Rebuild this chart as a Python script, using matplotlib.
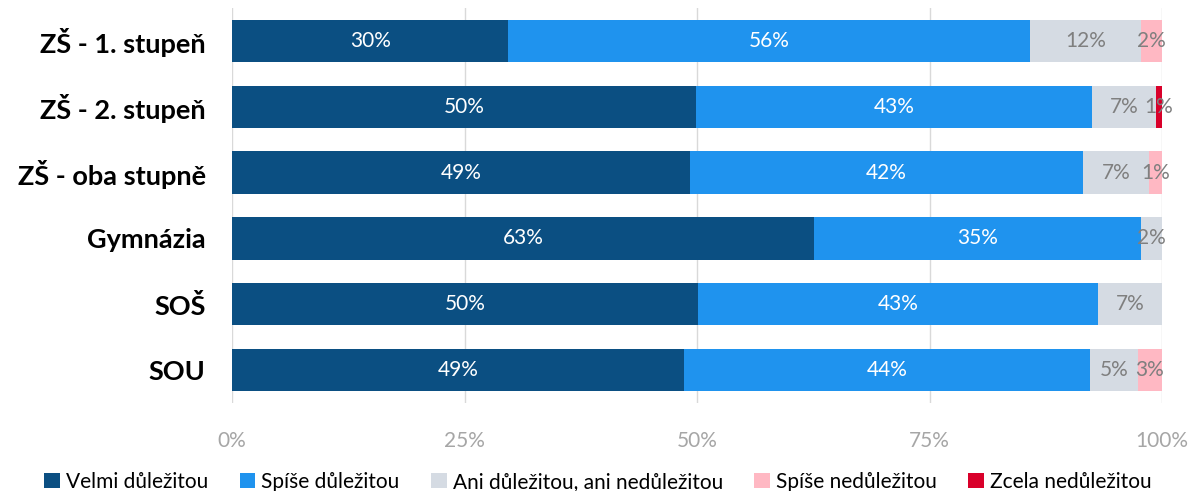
import matplotlib.pyplot as plt
import numpy as np

# --- data ---
categories = ['ZŠ - 1. stupeň', 'ZŠ - 2. stupeň', 'ZŠ - oba stupně', 'Gymnázia', 'SOŠ', 'SOU']
series_names = ['Velmi důležitou', 'Spíše důležitou', 'Ani důležitou, ani nedůležitou',
                'Spíše nedůležitou', 'Zcela nedůležitou']
velmi = [29.7, 49.9, 49.2, 62.6, 50.1, 48.6]
spise = [56.1, 42.6, 42.3, 35.1, 43.0, 43.7]
ani = [11.9, 6.8, 7.1, 2.3, 6.9, 5.1]
spise_ne = [2.3, 0.0, 1.4, 0.0, 0.0, 2.6]
zcela = [0.0, 0.7, 0.0, 0.0, 0.0, 0.0]
xticks = [0, 25, 50, 75, 100]

colors = ['#0b4f82', '#1f93ee', '#d5dbe3', '#ffb8c3', '#d9002a']
label_colors = ['white', 'white', '#7f7f7f', '#7f7f7f', '#7f7f7f']

plt.rcParams['font.family'] = ['Lato', 'DejaVu Sans']

fig = plt.figure(figsize=(11.96, 4.91), dpi=100)
ax = fig.add_axes([0.194, 0.179, 0.7776, 0.805])

y = np.arange(len(categories))
left = np.zeros(len(categories))
for vals, name, col, lcol in zip([velmi, spise, ani, spise_ne, zcela], series_names, colors, label_colors):
    vals = np.array(vals)
    ax.barh(y, vals, left=left, height=0.64, color=col, label=name, zorder=2)
    for yi, (l, v) in enumerate(zip(left, vals)):
        if v > 0:
            ax.text(l + v / 2, yi, f'{round(v):.0f}%', ha='center', va='center',
                    color=lcol, fontsize=15, zorder=3)
    left += vals

ax.set_xlim(0, 100)
ax.set_ylim(len(categories) - 0.5, -0.5)
ax.set_yticks(y)
ax.set_yticklabels(categories, fontsize=19.5, fontweight='bold', color='black')
ax.set_xticks(xticks)
ax.set_xticklabels([f'{t}%' for t in xticks], fontsize=15, color='#a6a6a6')
ax.tick_params(axis='y', length=0, pad=19)
ax.tick_params(axis='x', length=0, pad=20)
ax.grid(axis='x', color='#d9d9d9', linewidth=1, zorder=0)
for s in ax.spines.values():
    s.set_visible(False)

fig.legend(loc='lower center', bbox_to_anchor=(0.5, -0.04), ncol=5, frameon=False,
           fontsize=15, handlelength=0.75, handleheight=0.75, handletextpad=0.3,
           columnspacing=1.5)

fig.savefig('out.png', dpi=100)
